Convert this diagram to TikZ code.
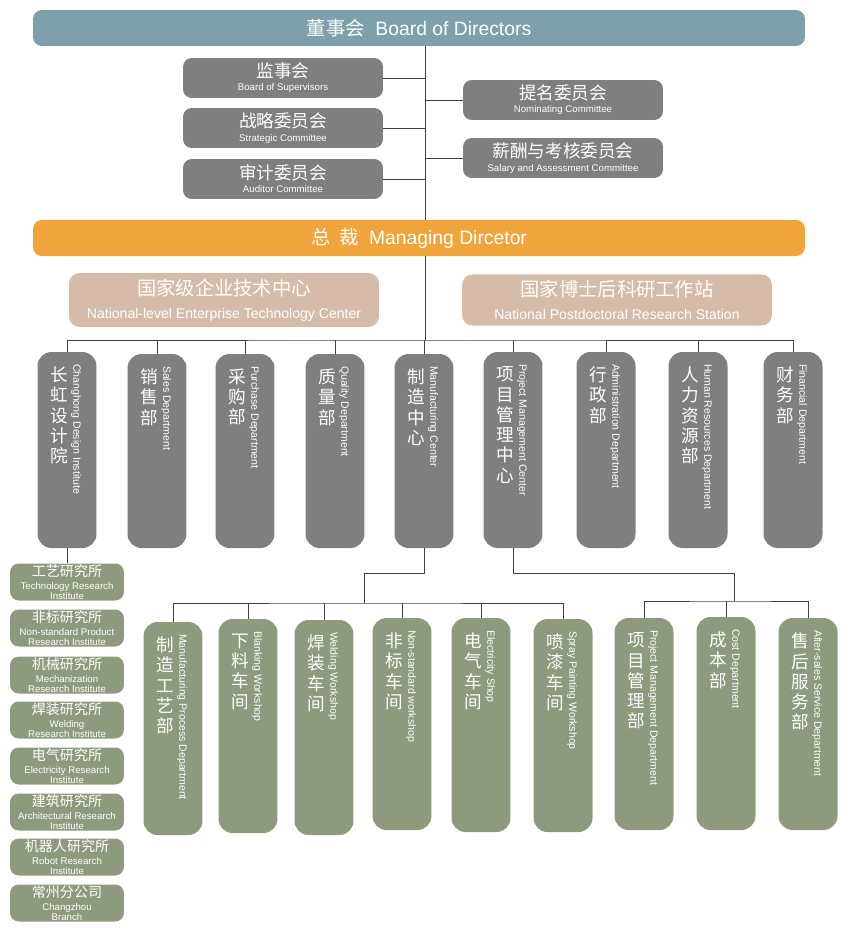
\documentclass[tikz,border=0pt]{standalone}
\usepackage{fontspec}
\setmainfont{Liberation Sans}
\newfontfamily\cjk{Noto Sans CJK SC}
\usetikzlibrary{positioning}
\definecolor{boardblue}{HTML}{7DA0AC}
\definecolor{mgrorange}{HTML}{F0A43C}
\definecolor{centertan}{HTML}{D5BBA8}
\definecolor{deptgrey}{HTML}{7F7F7F}
\definecolor{subolive}{HTML}{8E9A7E}
\tikzset{
  bar/.style={rounded corners=5pt, text=white, minimum width=15.44cm, minimum height=0.72cm, font=\fontsize{11}{13}\selectfont},
  gbox/.style={fill=deptgrey, rounded corners=5pt, text=white, minimum width=4cm, minimum height=0.8cm, align=center, inner sep=1pt, font=\fontsize{5.5}{6}\selectfont},
  cbox/.style={fill=centertan, rounded corners=6pt, text=white, minimum width=6.2cm, minimum height=1.02cm, align=center},
  vbox/.style={rounded corners=8pt, minimum width=1.18cm},
  sbox/.style={fill=subolive, rounded corners=5pt, text=white, minimum width=2.28cm, minimum height=0.74cm, align=center, inner sep=0pt, font=\fontsize{5.5}{5.6}\selectfont},
  cn/.style={text=white, align=center, anchor=north, inner sep=0pt, font=\cjk\fontsize{10}{11.5}\selectfont},
  en/.style={text=white, anchor=west, inner sep=0pt, rotate=-90, font=\fontsize{6}{6.5}\selectfont},
  link/.style={draw=black!75, line width=0.5pt}
}
% name, x, top, bottom, colour, chinese, english
\newcommand\vnode[7]{%
  \node[vbox, fill=#5, minimum height={(#4-#3)*0.02cm}] (#1) at (#2,{(#3+#4)/2}) {};
  \node[cn] (#1c) at ([xshift=-0.15cm,yshift=-0.3cm]#1.north) {#6};
  \node[en] (#1e) at ([xshift=0.18cm,yshift=-0.24cm]#1.north) {#7};
}
\newcommand\gcn[1]{{\cjk\fontsize{10}{11}\selectfont #1}\\[1.5pt]}
\newcommand\scn[1]{{\cjk\fontsize{8}{8}\selectfont #1}\\[1.5pt]}
\begin{document}
\begin{tikzpicture}[x=0.02cm, y=-0.02cm]
\useasboundingbox (0,0) rectangle (850,930);

%%% top level %%%
\node[bar, fill=boardblue] (board) at (419,28) {{\cjk 董事会}\ \ Board of Directors};
\node[gbox] (sup) at (283,78) {\gcn{监事会}Board of Supervisors};
\node[gbox] (stra) at (283,128) {\gcn{战略委员会}Strategic Committee};
\node[gbox] (audit) at (283,179) {\gcn{审计委员会}Auditor Committee};
\node[gbox] (nomi) at (563,100) {\gcn{提名委员会}Nominating Committee};
\node[gbox] (sal) at (563,158) {\gcn{薪酬与考核委员会}Salary and Assessment Committee};
\node[bar, fill=mgrorange] (mgr) at (419,238) {{\cjk 总\ \ 裁}\ \ Managing Dircetor};

\draw[link] (board.south -| 425,0) -- (mgr.north -| 425,0);
\foreach \b in {sup,stra,audit,nomi,sal}
  \draw[link] (\b) -- (\b -| 425,0);

%%% centres %%%
\node[cbox] (tech) at (224,300) {{\cjk\fontsize{11}{13}\selectfont 国家级企业技术中心}\\[1pt]{\fontsize{8}{9}\selectfont National-level Enterprise Technology Center}};
\node[cbox] (post) at (617,300) {{\cjk\fontsize{11}{13}\selectfont 国家博士后科研工作站}\\[1pt]{\fontsize{8}{9}\selectfont National Postdoctoral Research Station}};

%%% departments %%%
\vnode{d1}{67}{352}{548}{deptgrey}{长\\虹\\设\\计\\院}{Changhong Design Institute}
\vnode{d2}{157}{354}{548}{deptgrey}{销\\售\\部}{Sales Department}
\vnode{d3}{245}{354}{548}{deptgrey}{采\\购\\部}{Purchase Department}
\vnode{d4}{335}{354}{548}{deptgrey}{质\\量\\部}{Quality Department}
\vnode{d5}{424}{354}{548}{deptgrey}{制\\造\\中\\心}{Manufacturing Center}
\vnode{d6}{513}{352}{548}{deptgrey}{项\\目\\管\\理\\中\\心}{Project Management Center}
\vnode{d7}{606}{352}{548}{deptgrey}{行\\政\\部}{Administration Department}
\vnode{d8}{698}{352}{548}{deptgrey}{人\\力\\资\\源\\部}{Human Resources Department}
\vnode{d9}{793}{352}{548}{deptgrey}{财\\务\\部}{Financial Department}

\coordinate (bus) at (425,340);
\draw[link] (mgr.south -| bus) -- (bus);
\draw[link] (d1.north) |- (bus) -| (d9.north);
\foreach \d in {d2,d3,d4,d5,d6,d7,d8}
  \draw[link] (\d.north) -- (\d.north |- bus);

%%% design institute %%%
\node[sbox] (s1) at (67,582) {\scn{工艺研究所}Technology Research\\Institute};
\node[sbox] (s2) at (67,628) {\scn{非标研究所}Non-standard Product\\Research Institute};
\node[sbox] (s3) at (67,675) {\scn{机械研究所}Mechanization\\Research Institute};
\node[sbox] (s4) at (67,720) {\scn{焊装研究所}Welding\\Research Institute};
\node[sbox] (s5) at (67,766) {\scn{电气研究所}Electricity Research\\Institute};
\node[sbox] (s6) at (67,812) {\scn{建筑研究所}Architectural Research\\Institute};
\node[sbox] (s7) at (67,857) {\scn{机器人研究所}Robot Research\\Institute};
\node[sbox] (s8) at (67,903) {\scn{常州分公司}Changzhou\\Branch};
\draw[link] (d1.south) -- (s1.north);

%%% manufacturing %%%
\vnode{m1}{173}{622}{835}{subolive}{制\\造\\工\\艺\\部}{Manufacturing Process Department}
\vnode{m2}{248}{619}{833}{subolive}{下\\料\\车\\间}{Blanking Workshop}
\vnode{m3}{324}{620}{835}{subolive}{焊\\装\\车\\间}{Welding Workshop}
\vnode{m4}{402}{618}{830}{subolive}{非\\标\\车\\间}{Non-standard workshop}
\vnode{m5}{481}{618}{832}{subolive}{电\\气\\车\\间}{Electricity Shop}
\vnode{m6}{563}{619}{832}{subolive}{喷\\漆\\车\\间}{Spray Painting Workshop}

\coordinate (mbus) at (364,603);
\draw[link] (d5.south) -- ++(0,25) -| (mbus);
\draw[link] (m1.north) |- (mbus) -| (m6.north);
\foreach \m in {m2,m3,m4,m5}
  \draw[link] (\m.north) -- (\m.north |- mbus);

%%% project management %%%
\vnode{p1}{644}{618}{830}{subolive}{项\\目\\管\\理\\部}{Project Management Department}
\vnode{p2}{726}{617}{830}{subolive}{成\\本\\部}{Cost Department}
\vnode{p3}{808}{618}{830}{subolive}{售\\后\\服\\务\\部}{After-sales Service Department}

\coordinate (pbus) at (734,601);
\draw[link] (d6.south) -- ++(0,25) -| (pbus);
\draw[link] (p1.north) |- (pbus) -| (p3.north);
\draw[link] (p2.north) -- (p2.north |- pbus);

\end{tikzpicture}
\end{document}
